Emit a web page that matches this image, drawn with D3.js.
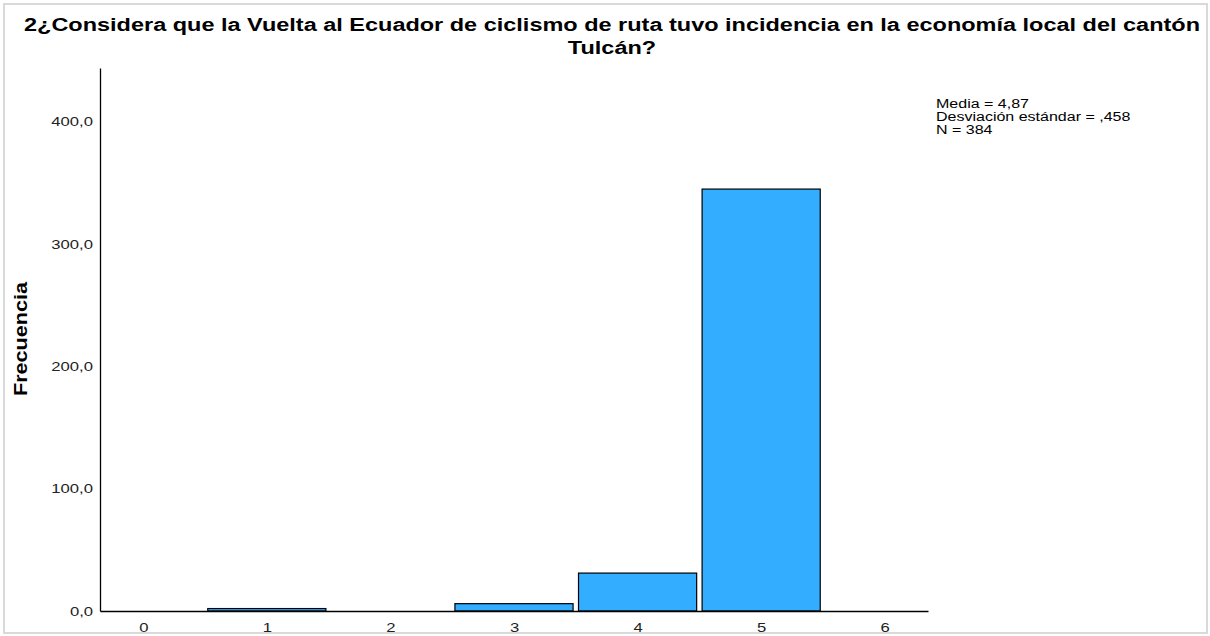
<!DOCTYPE html>
<html>
<head>
<meta charset="utf-8">
<script src="https://cdn.jsdelivr.net/npm/d3@7"></script>
<style>
  body { margin: 0; background: #fff; }
  svg text { font-family: "Liberation Sans", Arial, sans-serif; fill: #000; }
  .tick text { font-size: 13px; fill: #222; }
</style>
</head>
<body>
<div id="chart"></div>
<script>
// data
var categories = [0, 1, 2, 3, 4, 5, 6];
var counts = [0, 2, 0, 6, 31, 345, 0];
var yTicks = [0, 100, 200, 300, 400];
var titleLines = [
    "2¿Considera que la Vuelta al Ecuador de ciclismo de ruta tuvo incidencia en la economía local del cantón",
    "Tulcán?"
];
var statsLines = ["Media = 4,87", "Desviación estándar = ,458", "N = 384"];

var W = 1210, H = 636;
var margin = { top: 68, right: 282, bottom: 25, left: 100 },
    width = W - margin.left - margin.right,
    height = H - margin.top - margin.bottom;

// SPSS output text is drawn wider than plain Arial
var stretch = 1.28;

function widen(sel, k) {
    sel.each(function() {
        var len = this.getComputedTextLength();
        d3.select(this)
            .attr("textLength", len * k)
            .attr("lengthAdjust", "spacingAndGlyphs");
    });
}

var svg = d3.select("#chart")
    .append("svg")
    .attr("width", W)
    .attr("height", H);

// light frame round the picture
svg.append("rect")
    .attr("x", 4).attr("y", 4)
    .attr("width", W - 7).attr("height", H - 7)
    .attr("fill", "none")
    .attr("stroke", "#d9d9d9")
    .attr("stroke-width", 2);

var xScale = d3.scaleLinear()
    .domain([-0.35, 6.35])
    .range([0, width]);

var yScale = d3.scaleLinear()
    .domain([0, 444])
    .range([height, 0]);

var plot = svg.append("g")
    .attr("transform", "translate(" + margin.left + "," + margin.top + ")");

var fmt = function(d) { return d3.format(".1f")(d).replace(".", ","); };

var yAxis = plot.append("g")
    .call(d3.axisLeft(yScale).tickValues(yTicks).tickSize(0).tickPadding(7).tickFormat(fmt));
yAxis.select(".domain").attr("stroke", "#000").attr("stroke-width", 1.3);
widen(yAxis.selectAll(".tick text"), stretch);

var halfBar = 0.478;
plot.selectAll("rect.bar")
    .data(categories)
    .enter()
    .append("rect")
    .attr("class", "bar")
    .attr("x", function(d) { return xScale(d - halfBar); })
    .attr("width", function(d) { return xScale(d + halfBar) - xScale(d - halfBar); })
    .attr("y", function(d, i) { return yScale(counts[i]); })
    .attr("height", function(d, i) { return height - yScale(counts[i]); })
    .attr("fill", "#33adff")
    .attr("stroke", "#000")
    .attr("stroke-width", 1.2)
    .style("display", function(d, i) { return counts[i] > 0 ? null : "none"; });

var xAxis = plot.append("g")
    .attr("transform", "translate(0," + height + ")")
    .call(d3.axisBottom(xScale).tickValues(categories).tickSize(0).tickPadding(12).tickFormat(d3.format("d")));
xAxis.select(".domain").attr("stroke", "#000").attr("stroke-width", 1.3);
widen(xAxis.selectAll(".tick text"), stretch);

// title, one text per line so each can be stretched
var title = svg.selectAll("text.title")
    .data(titleLines)
    .enter()
    .append("text")
    .attr("class", "title")
    .attr("x", 612)
    .attr("y", function(d, i) { return 31 + i * 23; })
    .attr("text-anchor", "middle")
    .style("font-size", "18px")
    .style("font-weight", "bold")
    .text(function(d) { return d; });
var k = 1176 / title.node().getComputedTextLength();
widen(title, k);

var yLabel = svg.append("text")
    .attr("transform", "translate(27,339) rotate(-90)")
    .attr("text-anchor", "middle")
    .style("font-size", "18px")
    .style("font-weight", "bold")
    .text("Frecuencia");
widen(yLabel, 1.2);

var stats = svg.selectAll("text.stats")
    .data(statsLines)
    .enter()
    .append("text")
    .attr("class", "stats")
    .attr("x", 936)
    .attr("y", function(d, i) { return 108 + i * 13; })
    .style("font-size", "12.5px")
    .text(function(d) { return d; });
widen(stats, stretch);
</script>
</body>
</html>
